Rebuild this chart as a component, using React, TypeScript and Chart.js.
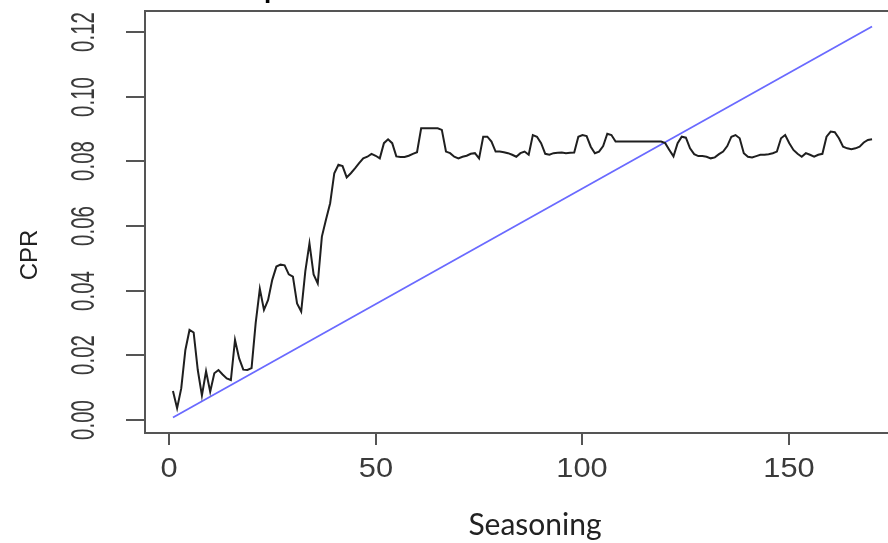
import { useEffect, useRef } from "react";
import { Chart, registerables } from "chart.js";

Chart.register(...registerables);

// ---- data -------------------------------------------------------------
const seasoning: number[] = Array.from({ length: 170 }, (_, i) => i + 1);

const cprValues: number[] = [
  0.0089, 0.0036, 0.0097, 0.0216, 0.0278, 0.0270, 0.0154, 0.0075, 0.0150, 0.0087,
  0.0144, 0.0154, 0.0140, 0.0128, 0.0123, 0.0247, 0.0190, 0.0155, 0.0154, 0.0160,
  0.0300, 0.0405, 0.0340, 0.0371, 0.0433, 0.0474, 0.0480, 0.0478, 0.0450, 0.0443,
  0.0360, 0.0335, 0.0460, 0.0546, 0.0450, 0.0422, 0.0567, 0.0620, 0.0670, 0.0763,
  0.0789, 0.0785, 0.0750, 0.0763, 0.0778, 0.0794, 0.0809, 0.0814, 0.0823, 0.0817,
  0.0809, 0.0856, 0.0868, 0.0856, 0.0815, 0.0813, 0.0813, 0.0817, 0.0823, 0.0828,
  0.0902, 0.0902, 0.0902, 0.0902, 0.0902, 0.0897, 0.0830, 0.0825, 0.0814, 0.0809,
  0.0814, 0.0817, 0.0823, 0.0825, 0.0809, 0.0876, 0.0876, 0.0861, 0.0830, 0.0830,
  0.0828, 0.0825, 0.0820, 0.0814, 0.0825, 0.0830, 0.0820, 0.0881, 0.0876, 0.0856,
  0.0823, 0.0820, 0.0825, 0.0826, 0.0827, 0.0825, 0.0826, 0.0827, 0.0876, 0.0881,
  0.0878, 0.0845, 0.0825, 0.0830, 0.0847, 0.0885, 0.0881, 0.0861, 0.0861, 0.0861,
  0.0861, 0.0861, 0.0861, 0.0861, 0.0861, 0.0861, 0.0861, 0.0861, 0.0861, 0.0856,
  0.0835, 0.0815, 0.0856, 0.0876, 0.0873, 0.0840, 0.0822, 0.0816, 0.0816, 0.0814,
  0.0809, 0.0812, 0.0822, 0.0830, 0.0847, 0.0876, 0.0881, 0.0871, 0.0825, 0.0814,
  0.0812, 0.0816, 0.0820, 0.0820, 0.0822, 0.0825, 0.0830, 0.0871, 0.0881, 0.0856,
  0.0835, 0.0823, 0.0814, 0.0825, 0.0820, 0.0814, 0.0820, 0.0823, 0.0876, 0.0892,
  0.0890, 0.0871, 0.0845, 0.0840, 0.0837, 0.0840, 0.0845, 0.0858, 0.0866, 0.0868,
];

const rampSeasoning: number[] = [1, 170];
const rampValues: number[] = [0.00072, 0.1217];

const xTickValues: number[] = [0, 50, 100, 150];
const xTickLabels: string[] = ["0", "50", "100", "150"];
const yTickValues: number[] = [0, 0.02, 0.04, 0.06, 0.08, 0.1, 0.12];
const yTickLabels: string[] = ["0.00", "0.02", "0.04", "0.06", "0.08", "0.10", "0.12"];

const xTitle = "Seasoning";
const yTitle = "CPR";
const mainTitle = "Empirical CPR vs. Linear Model";

// ---- chart ------------------------------------------------------------
const CANVAS_W = 920;
const CANVAS_H = 543;

const rAxesPlugin = {
  id: "rAxes",
  afterDraw(chart: any) {
    const { ctx, chartArea, scales } = chart;
    const xs = scales.x;
    const ys = scales.y;
    const { left, right, top, bottom } = chartArea;
    ctx.save();

    // box
    ctx.strokeStyle = "#555555";
    ctx.lineWidth = 2;
    ctx.strokeRect(left, top, right - left, bottom - top);

    // x ticks + labels
    ctx.fillStyle = "#3a3a3a";
    ctx.textAlign = "center";
    ctx.textBaseline = "middle";
    xTickValues.forEach((v, i) => {
      const px = Math.round(xs.getPixelForValue(v));
      ctx.beginPath();
      ctx.moveTo(px, bottom);
      ctx.lineTo(px, bottom + 12);
      ctx.stroke();
      ctx.save();
      ctx.translate(px, 469);
      ctx.scale(1.1, 1);
      ctx.font = '28px "Liberation Sans", Arial, sans-serif';
      ctx.fillText(xTickLabels[i], 0, 0);
      ctx.restore();
    });

    // y ticks + labels
    yTickValues.forEach((v, i) => {
      const py = Math.round(ys.getPixelForValue(v));
      ctx.beginPath();
      ctx.moveTo(left - 19, py);
      ctx.lineTo(left, py);
      ctx.stroke();
      ctx.save();
      ctx.translate(85, py);
      ctx.rotate(-Math.PI / 2);
      ctx.scale(0.62, 1);
      ctx.font = '33px "Liberation Sans", Arial, sans-serif';
      ctx.fillText(yTickLabels[i], 0, 0);
      ctx.restore();
    });

    // axis titles
    ctx.fillStyle = "#222222";
    ctx.font = '30px Lato, "Open Sans", sans-serif';
    ctx.textBaseline = "alphabetic";
    ctx.fillText(xTitle, 535, 535);

    ctx.save();
    ctx.translate(30, 255);
    ctx.rotate(-Math.PI / 2);
    ctx.font = '24px "Liberation Sans", Arial, sans-serif';
    ctx.textBaseline = "middle";
    ctx.fillText(yTitle, 0, 0);
    ctx.restore();

    // main title (mostly above the visible page)
    ctx.fillStyle = "#000000";
    ctx.font = 'bold 26px "Liberation Sans", Arial, sans-serif';
    ctx.textAlign = "left";
    ctx.textBaseline = "alphabetic";
    const startX = 264 - ctx.measureText("Em").width;
    ctx.fillText(mainTitle, startX, -2);

    ctx.restore();
  },
};

export default function App() {
  const canvasRef = useRef<HTMLCanvasElement | null>(null);

  useEffect(() => {
    document.body.style.margin = "0";
    document.body.style.overflow = "hidden";
    const canvas = canvasRef.current;
    if (!canvas) return;

    const chart = new Chart(canvas, {
      type: "line",
      data: {
        datasets: [
          {
            label: "CPR",
            data: seasoning.map((s, i) => ({ x: s, y: cprValues[i] })),
            borderColor: "#1f1f1f",
            borderWidth: 2,
            pointRadius: 0,
            tension: 0,
          },
          {
            label: "Linear",
            data: rampSeasoning.map((s, i) => ({ x: s, y: rampValues[i] })),
            borderColor: "#6a6aff",
            borderWidth: 1.8,
            pointRadius: 0,
            tension: 0,
          },
        ],
      },
      options: {
        animation: false,
        responsive: false,
        devicePixelRatio: 1,
        layout: { padding: { left: 145, top: 11, right: 20, bottom: 110 } },
        plugins: {
          legend: { display: false },
          tooltip: { enabled: false },
          title: { display: false },
        },
        scales: {
          x: { type: "linear", min: -5.76, max: 176.76, display: false },
          y: { type: "linear", min: -0.0041, max: 0.1265, display: false },
        },
      },
      plugins: [rAxesPlugin],
    });

    return () => chart.destroy();
  }, []);

  return (
    <div
      style={{
        position: "fixed",
        left: 0,
        top: 0,
        width: 888,
        height: 543,
        overflow: "hidden",
        background: "#ffffff",
      }}
    >
      <canvas ref={canvasRef} width={CANVAS_W} height={CANVAS_H} style={{ display: "block" }} />
    </div>
  );
}
